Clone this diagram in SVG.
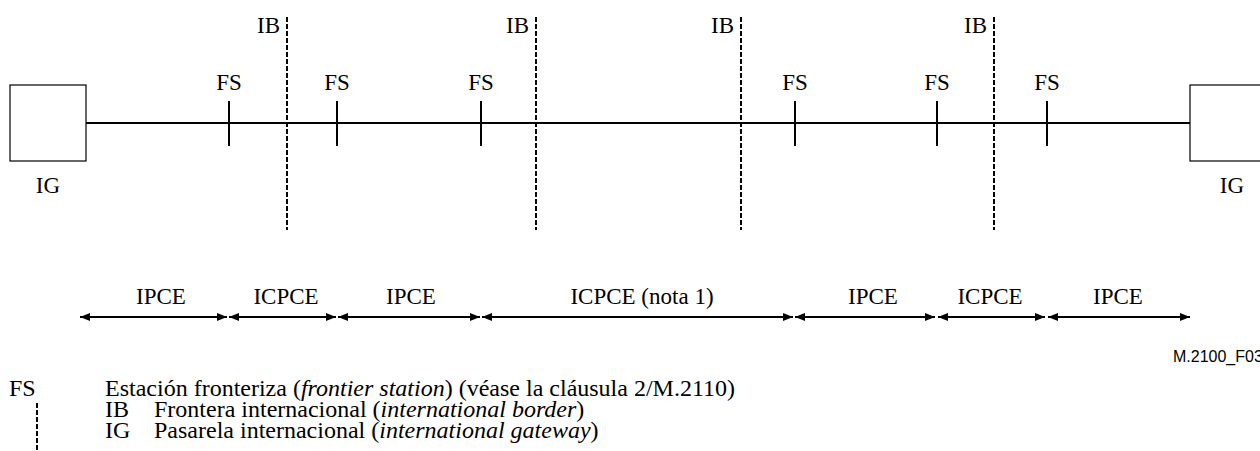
<svg xmlns="http://www.w3.org/2000/svg" width="1260" height="451" viewBox="0 0 1260 451">
<defs>
<style>
.t{font-family:"Liberation Serif","Times New Roman",serif;font-size:23px;fill:#000}
.lg{font-size:24px}
.c{text-anchor:middle}
.r{text-anchor:end}
.i{font-style:italic}
.ln{stroke:#000;stroke-width:2;fill:none}
.box{stroke:#000;stroke-width:1.2;fill:#fff}
.ib{stroke:#000;stroke-width:2;stroke-dasharray:5 2;fill:none}
.ar{stroke:#000;stroke-width:2;fill:none;marker-start:url(#ah);marker-end:url(#ah)}
.ref{font-family:"Liberation Sans",Arial,sans-serif;font-size:16px;fill:#000}
</style>
<marker id="ah" viewBox="0 0 10 8" refX="10" refY="4" markerWidth="10" markerHeight="8" markerUnits="userSpaceOnUse" orient="auto-start-reverse">
<path d="M0,0 L10,4 L0,8 Z" fill="#000"/>
</marker>
</defs>
<rect width="1260" height="451" fill="#fff"/>
<g id="connectors">
<line class="ln" x1="86" y1="123" x2="1190" y2="123"/>
<line class="ib" x1="287" y1="17" x2="287" y2="230"/>
<line class="ib" x1="536" y1="17" x2="536" y2="230"/>
<line class="ib" x1="741" y1="17" x2="741" y2="230"/>
<line class="ib" x1="994" y1="17" x2="994" y2="230"/>
<line class="ar" x1="80" y1="317" x2="227" y2="317"/>
<line class="ar" x1="229" y1="317" x2="336" y2="317"/>
<line class="ar" x1="338" y1="317" x2="480" y2="317"/>
<line class="ar" x1="482" y1="317" x2="793" y2="317"/>
<line class="ar" x1="795" y1="317" x2="935" y2="317"/>
<line class="ar" x1="938" y1="317" x2="1045" y2="317"/>
<line class="ar" x1="1048" y1="317" x2="1190" y2="317"/>
</g>
<g id="ig-left"><rect class="box" x="10" y="85" width="76" height="76"/><text class="t c" x="48" y="193">IG</text></g>
<g id="ig-right"><rect class="box" x="1190" y="85" width="76" height="76"/><text class="t c" x="1232" y="193">IG</text></g>
<g id="fs1"><line class="ln" x1="229" y1="101" x2="229" y2="146"/><text class="t c" x="229" y="90">FS</text></g>
<g id="fs2"><line class="ln" x1="337" y1="101" x2="337" y2="146"/><text class="t c" x="337" y="90">FS</text></g>
<g id="fs3"><line class="ln" x1="481" y1="101" x2="481" y2="146"/><text class="t c" x="481" y="90">FS</text></g>
<g id="fs4"><line class="ln" x1="795" y1="101" x2="795" y2="146"/><text class="t c" x="795" y="90">FS</text></g>
<g id="fs5"><line class="ln" x1="937" y1="101" x2="937" y2="146"/><text class="t c" x="937" y="90">FS</text></g>
<g id="fs6"><line class="ln" x1="1047" y1="101" x2="1047" y2="146"/><text class="t c" x="1047" y="90">FS</text></g>
<g id="ib-labels">
<text class="t r" x="280" y="33">IB</text>
<text class="t r" x="529" y="33">IB</text>
<text class="t r" x="734" y="33">IB</text>
<text class="t r" x="987" y="33">IB</text>
</g>
<g id="segments">
<text class="t c" x="161" y="304">IPCE</text>
<text class="t c" x="286" y="304">ICPCE</text>
<text class="t c" x="411" y="304">IPCE</text>
<text class="t c" x="642" y="304">ICPCE (nota 1)</text>
<text class="t c" x="873" y="304">IPCE</text>
<text class="t c" x="990" y="304">ICPCE</text>
<text class="t c" x="1118" y="304">IPCE</text>
</g>
<text class="ref" x="1173" y="362">M.2100_F03</text>
<g id="legend">
<text class="t lg" x="9" y="396">FS</text>
<text class="t lg" x="105" y="396">Estación fronteriza (<tspan class="i">frontier station</tspan>) (véase la cláusula 2/M.2110)</text>
<line class="ib" x1="37" y1="403" x2="37" y2="451"/>
<text class="t lg" x="105" y="417">IB</text>
<text class="t lg" x="154" y="417">Frontera internacional (<tspan class="i">international border</tspan>)</text>
<text class="t lg" x="105" y="438">IG</text>
<text class="t lg" x="154" y="438">Pasarela internacional (<tspan class="i">international gateway</tspan>)</text>
</g>
</svg>
